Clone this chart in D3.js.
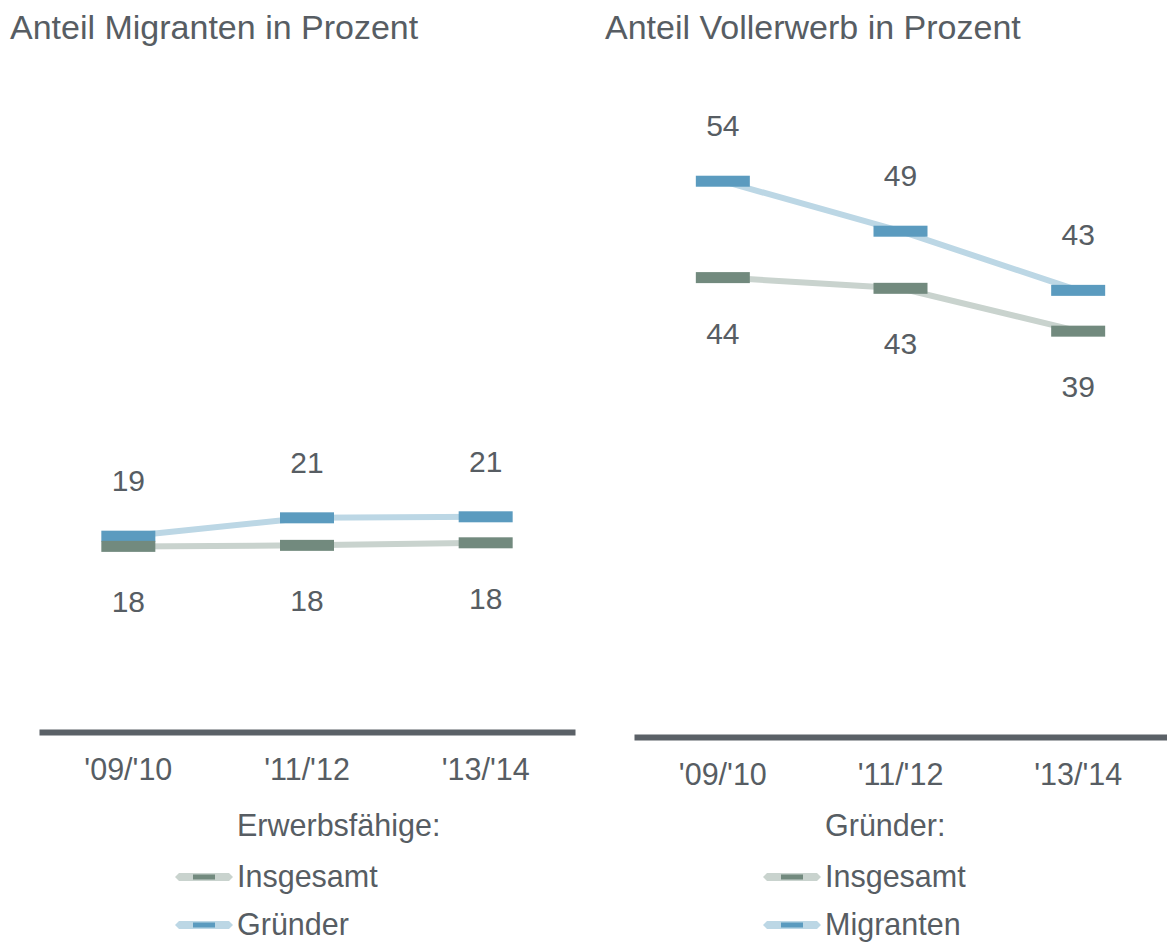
<!DOCTYPE html>
<html>
<head>
<meta charset="utf-8">
<script src="https://cdn.jsdelivr.net/npm/d3@7"></script>
<style>
  body { margin: 0; background: #fff; }
  svg { display: block; font-family: "Liberation Sans", Arial, sans-serif; }
  text { fill: #575d63; }
</style>
</head>
<body>
<svg id="chart"></svg>
<script>
// Jahre (x-Achse)
const jahre = ["'09/'10", "'11/'12", "'13/'14"];

// Anteil Migranten in Prozent (Erwerbsfähige)
const migrantenInsgesamt = [18.1, 18.2, 18.45];
const migrantenGruender = [19.1, 20.9, 21.0];

// Anteil Vollerwerb in Prozent (Gründer)
const vollerwerbInsgesamt = [44.45, 43.4, 39.2];
const vollerwerbMigranten = [53.9, 49.0, 43.2];

const farben = {
  dunkelGrau: '#728a7e', hellGrau: '#c9d3ce',
  dunkelBlau: '#5b9bbf', hellBlau: '#bcd7e5',
  achse: '#5b6167'
};

const svg = d3.select('#chart').attr('width', 1167).attr('height', 942);

// gemeinsame y-Skala, beide Panels gleicher Maßstab
const fnY = d3.scaleLinear().domain([0, 60]).range([731, 119]);

function panel(p) {
  const g = svg.append('g');

  g.append('text')
    .attr('x', p.titelX).attr('y', 39)
    .style('font-size', '34px')
    .text(p.titel);

  const fnX = d3.scaleBand().domain(jahre).range(p.bereich);
  const mitte = j => fnX(j) + fnX.bandwidth() / 2;

  const achse = d3.axisBottom(fnX).tickSize(0).tickSizeOuter(0).tickPadding(26);
  const ax = g.append('g')
    .attr('transform', 'translate(0,' + p.achseY + ')')
    .call(achse);
  ax.select('.domain').attr('stroke', farben.achse).attr('stroke-width', 6);
  ax.selectAll('text')
    .style('font-size', '30.5px')
    .style('font-family', '"Liberation Sans", Arial, sans-serif')
    .attr('fill', '#575d63');

  const linie = d3.line().x((d, i) => mitte(jahre[i])).y(d => fnY(d));

  const serien = [
    { werte: p.oben, hell: farben.hellBlau, dunkel: farben.dunkelBlau, dy: -45 },
    { werte: p.unten, hell: farben.hellGrau, dunkel: farben.dunkelGrau, dy: 66 }
  ];

  serien.forEach(s => {
    g.append('path')
      .datum(s.werte)
      .attr('d', linie)
      .attr('fill', 'none')
      .attr('stroke', s.hell)
      .attr('stroke-width', 6);
  });

  serien.forEach(s => {
    g.selectAll(null)
      .data(s.werte)
      .enter()
      .append('rect')
      .attr('x', (d, i) => mitte(jahre[i]) - 27)
      .attr('y', d => fnY(d) - 5.5)
      .attr('width', 54)
      .attr('height', 11)
      .attr('fill', s.dunkel);

    g.selectAll(null)
      .data(s.werte)
      .enter()
      .append('text')
      .attr('x', (d, i) => mitte(jahre[i]))
      .attr('y', d => fnY(d) + s.dy)
      .attr('text-anchor', 'middle')
      .style('font-size', '30px')
      .text(d => d.toFixed(0));
  });

  // Legende
  const lx = p.legendeX;
  g.append('text').attr('x', lx).attr('y', 836).style('font-size', '30.5px').text(p.legendeTitel);

  const eintraege = [
    { name: 'Insgesamt', hell: farben.hellGrau, dunkel: farben.dunkelGrau, y: 887 },
    { name: p.legendeOben, hell: farben.hellBlau, dunkel: farben.dunkelBlau, y: 935 }
  ];
  eintraege.forEach(e => {
    const cy = e.y - 10;
    const x0 = lx - 62, x1 = lx - 4;
    g.append('path')
      .attr('d', `M${x0},${cy} L${x0 + 4},${cy - 4} L${x1 - 4},${cy - 4} L${x1},${cy} L${x1 - 4},${cy + 4} L${x0 + 4},${cy + 4} Z`)
      .attr('fill', e.hell);
    g.append('rect')
      .attr('x', lx - 44).attr('y', cy - 2.5)
      .attr('width', 22).attr('height', 5)
      .attr('fill', e.dunkel);
    g.append('text').attr('x', lx).attr('y', e.y).style('font-size', '30.5px').text(e.name);
  });
}

panel({
  titel: 'Anteil Migranten in Prozent', titelX: 10,
  bereich: [39, 575], achseY: 732,
  oben: migrantenGruender, unten: migrantenInsgesamt,
  legendeTitel: 'Erwerbsfähige:', legendeOben: 'Gründer', legendeX: 237
});

panel({
  titel: 'Anteil Vollerwerb in Prozent', titelX: 605,
  bereich: [634, 1167], achseY: 737,
  oben: vollerwerbMigranten, unten: vollerwerbInsgesamt,
  legendeTitel: 'Gründer:', legendeOben: 'Migranten', legendeX: 825
});
</script>
</body>
</html>
